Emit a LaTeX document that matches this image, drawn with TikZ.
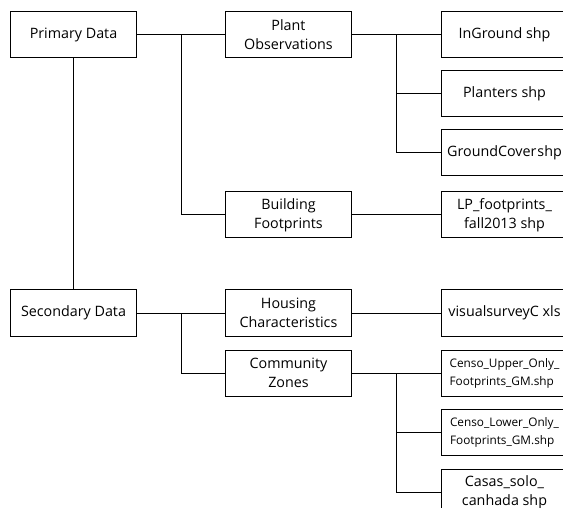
\documentclass[tikz,border=0pt]{standalone}
\usepackage{fontspec}
\setmainfont{Open Sans}
\usetikzlibrary{positioning}
\tikzset{
    %Define style for boxes
    databox/.style={
           rectangle,
           draw=black, line width=1pt,
           minimum width=126pt,
           minimum height=46pt,
           inner sep=2pt,
           font=\fontsize{14.3}{19}\selectfont,
           align=center},
    smallbox/.style={
           databox,
           font=\fontsize{11.8}{18}\selectfont,
           align=left},
    % Define line style
    link/.style={
           line width=1pt}
}
\begin{document}
\begin{tikzpicture}[x=1pt,y=-1pt,node distance=12pt and 88pt]
 \useasboundingbox (0,0) rectangle (563,508);
 \clip (0,0) rectangle (563,508);

 %nodes
\node[databox] (prim) at (73.5,35) {Primary Data};
\node[databox, right=of prim] (plant) {Plant\\Observations};
\node[databox, right=89pt of plant] (inground) {InGround shp};
\node[databox, below=of inground] (planters) {Planters shp};
\node[databox, below=of planters] (gcover) {GroundCover\kern1pt shp};
\node[databox, below=15pt of gcover] (lpfoot) {LP\_footprints\_\\fall2013 shp};
\node[databox, left=89pt of lpfoot] (build) {Building\\Footprints};
\node[databox, below=51pt of lpfoot] (visual) {visualsurveyC xls};
\node[databox, left=89pt of visual] (housing) {Housing\\Characteristics};
\node[databox, left=of housing] (second) {Secondary Data};
\node[smallbox, below=13pt of visual] (cupper) {Censo\_Upper\_Only\_\\Footprints\_GM.shp};
\node[databox, left=89pt of cupper] (commun) {Community\\Zones};
\node[smallbox, below=of cupper] (clower) {Censo\_Lower\_Only\_\\Footprints\_GM.shp};
\node[databox, below=13pt of clower] (casas) {Casas\_solo\_\\canhada shp};

 %split points
\path (prim.east) -- (plant.west) coordinate[midway] (pj);
\path (plant.east) -- (inground.west) coordinate[midway] (pk);
\path (second.east) -- (housing.west) coordinate[midway] (sj);
\path (commun.east) -- (cupper.west) coordinate[midway] (ck);

 %links
\draw[link] (prim) -- (plant);
\draw[link] (pj) |- (build.west);
\draw[link] (build) -- (lpfoot);
\draw[link] (plant) -- (inground);
\draw[link] (pk) |- (planters.west);
\draw[link] (pk) |- (gcover.west);
\draw[link] (prim) -- (second);
\draw[link] (second) -- (housing);
\draw[link] (sj) |- (commun.west);
\draw[link] (housing) -- (visual);
\draw[link] (commun) -- (cupper);
\draw[link] (ck) |- (clower.west);
\draw[link] (ck) |- (casas.west);

\end{tikzpicture}
\end{document}
